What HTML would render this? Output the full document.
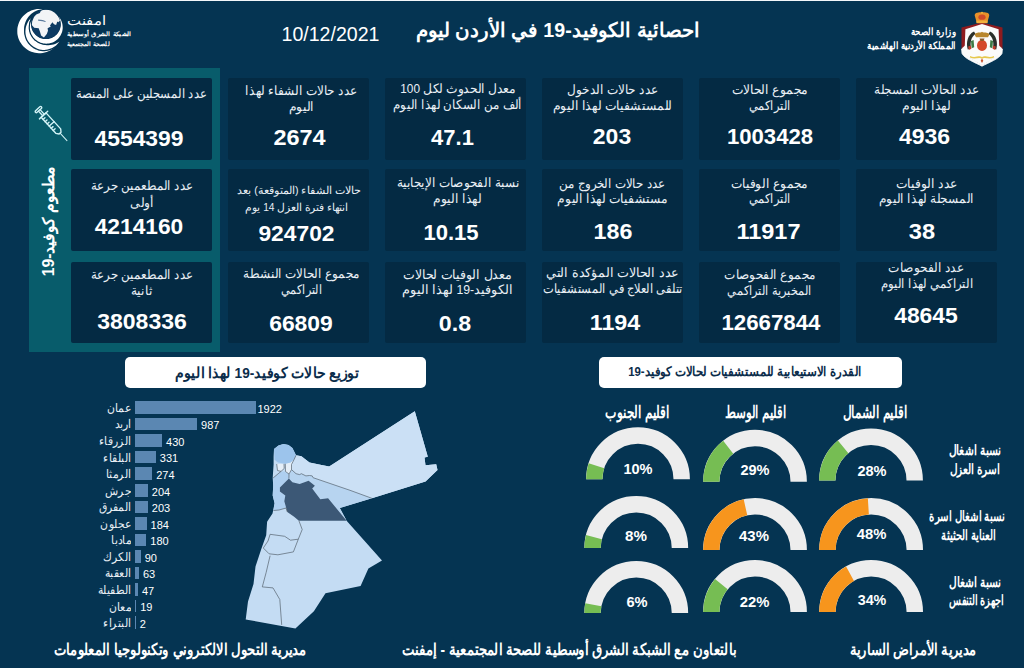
<!DOCTYPE html>
<html lang="ar">
<head>
<meta charset="utf-8">
<title>احصائية الكوفيد-19 في الأردن</title>
<style>
html,body{margin:0;padding:0;}
html{width:1024px;height:668px;overflow:hidden;background:#053452;}
body{width:1024px;height:668px;overflow:hidden;background:#053452;position:relative;
 font-family:"Liberation Sans",sans-serif;color:#fff;}
#p{position:absolute;left:0;top:0;width:1024px;height:668px;overflow:hidden;overflow:clip;contain:paint;}
.topline{position:absolute;left:0;top:0;width:1024px;height:1px;background:#f4f7fa;}
.teal{position:absolute;left:29px;top:68px;width:191px;height:284px;background:#085c6b;}
.card{position:absolute;width:141px;height:81.5px;background:#042a43;border-radius:2px;}
.x{position:absolute;white-space:nowrap;direction:rtl;line-height:20px;height:20px;color:#fff;}
.c{text-align:center;transform-origin:50% 50%;}
.r{text-align:right;transform-origin:100% 50%;}
.l{text-align:left;transform-origin:0 50%;}
.wbox{position:absolute;background:#fff;border-radius:5px;}
.bar{position:absolute;left:135px;height:12.5px;background:#5b87b2;}
svg{position:absolute;overflow:visible;}
</style>
</head>
<body>
<div id="p">
<div class="topline"></div>

<header>
<svg width="80" height="60" viewBox="0 0 80 60" style="left:0;top:0;">
<defs><clipPath id="gl"><circle cx="45.9" cy="24.2" r="14.5"/></clipPath></defs>
<path d="M42.7 9.3L40.8 9.0L38.8 9.0L36.9 9.1L34.9 9.4L33.0 9.9L31.2 10.6L29.4 11.4L27.7 12.3L26.1 13.4L24.6 14.7L23.2 16.0L21.9 17.5L20.8 19.1L19.8 20.8L19.0 22.6L18.3 24.4L17.8 26.3L17.4 28.2L17.3 30.2L17.3 32.1L17.4 34.1L17.8 36.0L18.3 37.9L19.0 39.7L19.8 41.5L20.8 43.1L22.0 44.7L23.2 46.2L24.6 47.6L26.1 48.8L27.8 49.9L29.5 50.9L31.3 51.7L33.1 52.3L35.0 52.8L36.9 53.1L38.9 53.2L40.8 53.2L42.8 52.9L44.7 52.5L46.6 52.0L48.4 51.3L50.1 50.4L51.8 49.4L53.4 48.2L54.8 46.9L56.1 45.5L54.7 46.5L53.1 47.3L51.5 48.0L49.8 48.6L48.1 49.0L46.3 49.3L44.6 49.4L42.8 49.4L41.1 49.2L39.3 48.8L37.6 48.3L36.0 47.6L34.4 46.8L32.9 45.9L31.5 44.8L30.1 43.7L28.9 42.4L27.8 41.0L26.9 39.5L26.0 37.9L25.4 36.3L24.8 34.6L24.4 32.9L24.2 31.1L24.1 29.4L24.2 27.6L24.4 25.8L24.8 24.1L25.3 22.4L26.0 20.8L26.8 19.2L27.8 17.7L28.9 16.3L30.1 15.0L31.4 13.8L32.8 12.8L34.3 11.8L35.9 11.0L37.5 10.3L39.2 9.8L40.9 9.5Z" fill="#fff"/>
<path d="M30.8 18.3L29.7 19.5L28.7 20.8L27.8 22.2L27.1 23.7L26.5 25.2L26.0 26.7L25.7 28.3L25.5 29.9L25.4 31.6L25.5 33.2L25.7 34.8L26.1 36.4L26.6 38.0L27.2 39.5L28.0 40.9L28.9 42.3L29.9 43.5L31.1 44.7L32.3 45.8L33.6 46.8L35.0 47.6L36.4 48.3L38.0 48.9L39.5 49.4L41.1 49.7L42.8 49.9L44.4 49.9L46.0 49.8L47.6 49.5L49.2 49.1L50.7 48.6L52.2 47.9L53.7 47.1L55.0 46.2L56.3 45.2L57.4 44.0L58.5 42.8L59.4 41.5L58.0 42.4L56.6 43.2L55.1 43.9L53.5 44.4L51.9 44.8L50.2 45.1L48.6 45.2L46.9 45.2L45.2 45.0L43.6 44.7L42.0 44.2L40.4 43.6L38.9 42.8L37.5 42.0L36.2 41.0L34.9 39.9L33.8 38.7L32.7 37.4L31.8 36.0L31.0 34.5L30.3 33.0L29.8 31.4L29.4 29.8L29.2 28.1L29.1 26.4L29.2 24.8L29.4 23.1L29.7 21.5L30.2 19.9Z" fill="#fff" stroke="#053452" stroke-width="2.6" paint-order="stroke" stroke-linejoin="round"/>
<path d="M31.6 20.0L31.0 21.4L30.5 22.7L30.2 24.1L30.0 25.6L29.9 27.0L29.9 28.5L30.1 29.9L30.4 31.3L30.8 32.7L31.3 34.0L32.0 35.3L32.8 36.5L33.6 37.7L34.6 38.8L35.6 39.8L36.8 40.6L38.0 41.4L39.3 42.1L40.6 42.7L42.0 43.1L43.4 43.4L44.8 43.6L46.2 43.7L47.7 43.6L49.1 43.5L50.5 43.1L51.9 42.7L53.2 42.2L54.5 41.5L55.7 40.7L56.9 39.8L57.9 38.9L58.9 37.8L59.8 36.6L60.5 35.4L61.2 34.1L61.8 32.8L62.2 31.4L62.5 30.0L62.7 28.6L62.7 27.1L62.6 25.7L62.4 24.3L62.1 22.9L61.6 21.5L61.1 20.2L60.4 18.9L59.6 17.7L58.7 16.6L59.3 17.7L59.8 18.9L60.2 20.2L60.5 21.4L60.7 22.7L60.8 24.0L60.8 25.4L60.6 26.7L60.3 27.9L59.9 29.2L59.4 30.4L58.8 31.6L58.1 32.7L57.4 33.7L56.5 34.7L55.5 35.6L54.5 36.4L53.4 37.1L52.2 37.7L51.0 38.2L49.7 38.6L48.5 38.9L47.2 39.0L45.8 39.1L44.5 39.0L43.2 38.9L42.0 38.6L40.7 38.2L39.5 37.7L38.3 37.0L37.2 36.3L36.2 35.5L35.2 34.6L34.4 33.6L33.6 32.6L32.9 31.5L32.3 30.3L31.8 29.1L31.4 27.8L31.2 26.5L31.0 25.2L31.0 23.9L31.1 22.6L31.3 21.3Z" fill="#fff" stroke="#053452" stroke-width="2.4" paint-order="stroke" stroke-linejoin="round"/>
<circle cx="45.9" cy="24.2" r="14.5" fill="#0d3b63"/>
<polygon clip-path="url(#gl)" fill="#f2f4f6" points="32.2,21.4 34.0,17.0 36.3,14.5 39.9,12.9 41.0,10.5 44.3,9.5 50.0,9.5 54.0,11.3 58.5,16.5 60.4,20.2 58.2,22.3 57.3,21.4 56.1,25.0 54.0,24.2 52.4,22.2 50.0,25.4 50.8,26.6 47.6,28.3 48.0,30.7 46.8,33.9 43.9,37.5 41.1,35.5 39.9,31.5 38.7,28.3 34.2,27.8 31.8,25.0"/>
<path clip-path="url(#gl)" d="M38.2 19.6l4.6.5 3 1.2-.5.8-2.8-.8-4.4-.6z" fill="#5b7a9c"/>
</svg>
<svg width="64" height="62" viewBox="950 8 64 62" style="left:950px;top:8px;">
<path d="M982 22.5 L1002.5 27.5 L1002.5 50 L982 66 L961.5 50 L961.5 27.5Z" fill="#8e1b1e"/>
<path d="M982 24 L998.6 29.2 L999.4 50.5 C999 56 990 60 982 65 C974 60 965 56 964.6 50.5 L965.4 29.2Z" fill="#fbfbfb"/>
<path d="M961.6 49 L966 45 L966 54.5 C969 58 976 61 982 65 C988 61 995 58 998 54.5 L998 45 L1002.4 49 L1002 53.5 C999 59 989 62.5 982 66.2 C975 62.5 965 59 962 53.5Z" fill="#fbfbfb" stroke="#fbfbfb" stroke-width="0.8"/>
<path d="M963.5 47H1000.5L999 55 982 64.5 965 55Z" fill="#fbfbfb"/>
<path d="M975 16.5 C973.5 13 978 12.2 982 12.4 C986 12.2 990.5 13 989 16.5 L987.3 22.6 L976.7 22.6Z" fill="#e8912a"/>
<rect x="976.4" y="20.6" width="11.2" height="2.6" fill="#f2b13c"/>
<circle cx="982" cy="12.8" r="1" fill="#f2b13c"/>
<ellipse cx="982" cy="17.2" rx="3.6" ry="2.6" fill="#cf4a2a"/>
<path d="M974 31.5 C967.5 34.5 965.8 43 967.8 49.5 L971 48 C970 42.5 971 37 975.5 34Z" fill="#2a2f2a"/>
<path d="M990 31.5 C996.5 34.5 998.2 43 996.2 49.5 L993 48 C994 42.5 993 37 988.5 34Z" fill="#2a2f2a"/>
<path d="M971 41 L973.6 40 L974.2 47.2 L971.6 48.2Z" fill="#3e7b45"/><path d="M993 41 L990.4 40 L989.8 47.2 L992.4 48.2Z" fill="#3e7b45"/>
<path d="M968.2 46.5l2.6-1 .6 3.2-2.6 1.2z" fill="#c23b2a"/><path d="M995.8 46.5l-2.6-1-.6 3.2 2.6 1.2z" fill="#c23b2a"/>
<path d="M974.5 34.5 C977 31.5 980 33.5 982 31.8 C984 33.5 987 31.5 989.5 34.5 L988 37.2 L976 37.2Z" fill="#b8862c"/>
<ellipse cx="982" cy="45.4" rx="5" ry="5.6" fill="#d4482b"/>
<path d="M979.5 38.5h5l-1 2.5h-3z" fill="#8a5a2a"/>
<path d="M970 56 C975 58.5 979 55 982 57 C985 55 989 58.5 994 56 L994 57.6 C989 60 985 56.8 982 58.8 C979 56.8 975 60 970 57.6Z" fill="#e6c84e"/>
<path d="M982 58.5l1.3 2.2-1.3 2.2-1.3-2.2z" fill="#c9532f"/>
</svg>
<div class="x c" id="ttl" style="left:273.0px;top:19.9px;width:570px;font-size:19.8px;font-weight:bold;transform:scaleX(0.991);">احصائية الكوفيد-19 في الأردن ليوم</div>
<div class="x c" id="date" style="left:239.5px;top:23.8px;width:181px;font-size:19.4px;direction:ltr;transform:scaleX(1.010);">10/12/2021</div>
<div class="x r" id="min1" style="left:835.5px;top:21.5px;width:120px;font-size:10.2px;font-weight:bold;transform:scaleX(0.867);">وزارة الصحة</div>
<div class="x r" id="min2" style="left:734.5px;top:36.0px;width:221px;font-size:10.2px;font-weight:bold;transform:scaleX(0.862);">المملكة الأردنية الهاشمية</div>
<div class="x l" id="lg1" style="left:66.5px;top:10.5px;width:80px;font-size:13px;transform:scaleX(1.143);">امفنت</div>
<div class="x l" id="lg2" style="left:67.0px;top:24.4px;width:130px;font-size:6px;font-weight:bold;transform:scaleX(1.129);">الشبكة الشرق أوسطية</div>
<div class="x l" id="lg3" style="left:67.0px;top:33.9px;width:99px;font-size:6px;font-weight:bold;transform:scaleX(1.021);">للصحة المجتمعية</div>
</header>
<section id="vaccination">
<div class="teal"></div>
<div class="x c" id="vax" style="left:-70.7px;top:211.0px;width:240px;font-size:16px;font-weight:bold;transform:rotate(-90deg) scaleX(0.981);">مطعوم كوفيد-19</div>
<svg width="1024" height="668" viewBox="0 0 1024 668" style="left:0;top:0;" fill="none" stroke="#d2f3f6" stroke-width="1.4" stroke-linecap="round" stroke-linejoin="round">
<g transform="translate(38.45 109.5) rotate(47.5)">
<rect x="-1.1" y="-4" width="2.3" height="8" rx="1.1"/>
<path d="M1.2 -1.1H7.6M1.2 1.1H7.6"/>
<path d="M7.6 -5.6V5.6"/>
<path d="M7.6 -3.3H29.3L32 -1.3V1.3L29.3 3.3H7.6Z"/>
<path d="M19.5 -3.3V3.3"/>
<path d="M10.5 3.3V0.8M13.5 3.3V0.8M16.5 3.3V0.8M22.5 3.3V0.8M25.5 3.3V0.8"/>
<path d="M32 0H42.2" stroke-width="1"/>
</g></svg>
<div class="card" style="left:71px;top:77.5px;height:82px;">
<div class="x c" style="left:-60.0px;top:6.7px;width:261px;font-size:12.5px;color:#e9eff5;transform:scaleX(0.895);">عدد المسجلين على المنصة</div>
<div class="x c" style="left:-11.5px;top:51.6px;width:158px;font-size:21.5px;font-weight:bold;direction:ltr;transform:scaleX(1.064);">4554399</div>
</div>
<div class="card" style="left:71px;top:169px;height:81.5px;">
<div class="x c" style="left:-32.5px;top:7.2px;width:206px;font-size:12.5px;color:#e9eff5;transform:scaleX(0.908);">عدد المطعمين جرعة</div>
<div class="x c" style="left:38.5px;top:23.7px;width:64px;font-size:12.5px;color:#e9eff5;transform:scaleX(0.940);">أولى</div>
<div class="x c" style="left:-11.2px;top:47.6px;width:158px;font-size:21.5px;font-weight:bold;direction:ltr;transform:scaleX(1.058);">4214160</div>
</div>
<div class="card" style="left:71px;top:262px;height:80.5px;">
<div class="x c" style="left:-32.5px;top:3.2px;width:206px;font-size:12.5px;color:#e9eff5;transform:scaleX(0.908);">عدد المطعمين جرعة</div>
<div class="x c" style="left:40.0px;top:18.7px;width:61px;font-size:12.5px;color:#e9eff5;transform:scaleX(0.935);">ثانية</div>
<div class="x c" style="left:-8.2px;top:49.6px;width:158px;font-size:21.5px;font-weight:bold;direction:ltr;transform:scaleX(1.070);">3808336</div>
</div>
</section>
<section id="stats">
<div class="card" style="left:856px;top:77.5px;height:82px;">
<div class="x c" style="left:-33.5px;top:2.7px;width:208px;font-size:12.5px;color:#e9eff5;transform:scaleX(0.926);">عدد الحالات المسجلة</div>
<div class="x c" style="left:17.0px;top:18.2px;width:107px;font-size:12.5px;color:#e9eff5;transform:scaleX(0.952);">لهذا اليوم</div>
<div class="x c" style="left:17.8px;top:49.6px;width:101px;font-size:21.5px;font-weight:bold;direction:ltr;transform:scaleX(1.071);">4936</div>
</div>
<div class="card" style="left:699px;top:77.5px;height:82px;">
<div class="x c" style="left:-6.5px;top:2.7px;width:154px;font-size:12.5px;color:#e9eff5;transform:scaleX(0.944);">مجموع الحالات</div>
<div class="x c" style="left:20.0px;top:18.2px;width:101px;font-size:12.5px;color:#e9eff5;transform:scaleX(0.875);">التراكمي</div>
<div class="x c" style="left:-8.5px;top:49.6px;width:158px;font-size:21.5px;font-weight:bold;direction:ltr;transform:scaleX(1.029);">1003428</div>
</div>
<div class="card" style="left:542px;top:77.5px;height:82px;">
<div class="x c" style="left:-20.5px;top:2.7px;width:182px;font-size:12.5px;color:#e9eff5;transform:scaleX(0.929);">عدد حالات الدخول</div>
<div class="x c" style="left:-43.0px;top:18.2px;width:227px;font-size:12.5px;color:#e9eff5;transform:scaleX(0.949);">للمستشفيات لهذا اليوم</div>
<div class="x c" style="left:29.0px;top:49.6px;width:82px;font-size:21.5px;font-weight:bold;direction:ltr;transform:scaleX(1.067);">203</div>
</div>
<div class="card" style="left:385px;top:77.5px;height:82px;">
<div class="x c" style="left:-38.1px;top:1.7px;width:222px;font-size:12.5px;color:#e9eff5;transform:scaleX(0.944);">معدل الحدوث لكل 100</div>
<div class="x c" style="left:-54.5px;top:17.7px;width:253px;font-size:12.5px;color:#e9eff5;transform:scaleX(0.913);">ألف من السكان لهذا اليوم</div>
<div class="x c" style="left:21.8px;top:50.1px;width:91px;font-size:21.5px;font-weight:bold;direction:ltr;transform:scaleX(1.021);">47.1</div>
</div>
<div class="card" style="left:228px;top:77.5px;height:82px;">
<div class="x c" style="left:-36.0px;top:3.7px;width:219px;font-size:12.5px;color:#e9eff5;transform:scaleX(0.930);">عدد حالات الشفاء لهذا</div>
<div class="x c" style="left:40.0px;top:19.2px;width:67px;font-size:12.5px;color:#e9eff5;transform:scaleX(0.944);">اليوم</div>
<div class="x c" style="left:21.0px;top:50.3px;width:101px;font-size:21.5px;font-weight:bold;direction:ltr;transform:scaleX(1.092);">2674</div>
</div>
<div class="card" style="left:856px;top:169px;height:81.5px;">
<div class="x c" style="left:5.5px;top:4.7px;width:130px;font-size:12.5px;color:#e9eff5;transform:scaleX(0.947);">عدد الوفيات</div>
<div class="x c" style="left:-24.0px;top:20.2px;width:189px;font-size:12.5px;color:#e9eff5;transform:scaleX(0.932);">المسجلة لهذا اليوم</div>
<div class="x c" style="left:35.0px;top:52.6px;width:62px;font-size:21.5px;font-weight:bold;direction:ltr;transform:scaleX(1.100);">38</div>
</div>
<div class="card" style="left:699px;top:169px;height:81.5px;">
<div class="x c" style="left:-8.0px;top:4.7px;width:157px;font-size:12.5px;color:#e9eff5;transform:scaleX(0.934);">مجموع الوفيات</div>
<div class="x c" style="left:20.0px;top:20.2px;width:101px;font-size:12.5px;color:#e9eff5;transform:scaleX(0.875);">التراكمي</div>
<div class="x c" style="left:10.5px;top:52.6px;width:117px;font-size:21.5px;font-weight:bold;direction:ltr;transform:scaleX(1.093);">11917</div>
</div>
<div class="card" style="left:542px;top:169px;height:81.5px;">
<div class="x c" style="left:-36.0px;top:4.7px;width:213px;font-size:12.5px;color:#e9eff5;transform:scaleX(0.915);">عدد حالات الخروج من</div>
<div class="x c" style="left:-36.0px;top:20.2px;width:213px;font-size:12.5px;color:#e9eff5;transform:scaleX(0.941);">مستشفيات لهذا اليوم</div>
<div class="x c" style="left:30.2px;top:52.6px;width:82px;font-size:21.5px;font-weight:bold;direction:ltr;transform:scaleX(1.081);">186</div>
</div>
<div class="card" style="left:385px;top:169px;height:81.5px;">
<div class="x c" style="left:-46.1px;top:3.7px;width:238px;font-size:12.5px;color:#e9eff5;transform:scaleX(0.925);">نسبة الفحوصات الإيجابية</div>
<div class="x c" style="left:19.1px;top:19.7px;width:107px;font-size:12.5px;color:#e9eff5;transform:scaleX(0.942);">لهذا اليوم</div>
<div class="x c" style="left:11.3px;top:53.6px;width:110px;font-size:21.5px;font-weight:bold;direction:ltr;transform:scaleX(1.026);">10.15</div>
</div>
<div class="card" style="left:228px;top:169px;height:81.5px;">
<div class="x c" style="left:-40.5px;top:11.1px;width:222px;font-size:10.5px;color:#e9eff5;transform:scaleX(1.008);">حالات الشفاء (المتوقعة) بعد</div>
<div class="x c" style="left:-29.0px;top:28.3px;width:195px;font-size:10.5px;color:#e9eff5;transform:scaleX(0.972);">انتهاء فترة العزل 14 يوم</div>
<div class="x c" style="left:-1.0px;top:54.9px;width:139px;font-size:21.5px;font-weight:bold;direction:ltr;transform:scaleX(1.061);">924702</div>
</div>
<div class="card" style="left:856px;top:262px;height:80.5px;">
<div class="x c" style="left:-7.0px;top:-4.3px;width:155px;font-size:12.5px;color:#e9eff5;transform:scaleX(0.933);">عدد الفحوصات</div>
<div class="x c" style="left:-24.5px;top:11.7px;width:190px;font-size:12.5px;color:#e9eff5;transform:scaleX(0.899);">التراكمي لهذا اليوم</div>
<div class="x c" style="left:9.8px;top:44.1px;width:120px;font-size:21.5px;font-weight:bold;direction:ltr;transform:scaleX(1.065);">48645</div>
</div>
<div class="card" style="left:699px;top:262px;height:80.5px;">
<div class="x c" style="left:-20.5px;top:3.2px;width:182px;font-size:12.5px;color:#e9eff5;transform:scaleX(0.924);">مجموع الفحوصات</div>
<div class="x c" style="left:-20.0px;top:19.2px;width:181px;font-size:12.5px;color:#e9eff5;transform:scaleX(0.867);">المخبرية التراكمي</div>
<div class="x c" style="left:-17.0px;top:50.6px;width:178px;font-size:21.5px;font-weight:bold;direction:ltr;transform:scaleX(1.035);">12667844</div>
</div>
<div class="card" style="left:542px;top:262px;height:80.5px;">
<div class="x c" style="left:-52.0px;top:0.7px;width:245px;font-size:12.5px;color:#e9eff5;transform:scaleX(0.978);">عدد الحالات المؤكدة التي</div>
<div class="x c" style="left:-69.5px;top:16.7px;width:280px;font-size:12.5px;color:#e9eff5;transform:scaleX(0.881);">تتلقى العلاج في المستشفيات</div>
<div class="x c" style="left:24.2px;top:50.6px;width:98px;font-size:21.5px;font-weight:bold;direction:ltr;transform:scaleX(1.085);">1194</div>
</div>
<div class="card" style="left:385px;top:262px;height:80.5px;">
<div class="x c" style="left:-29.7px;top:3.2px;width:205px;font-size:12.5px;color:#e9eff5;transform:scaleX(0.965);">معدل الوفيات لحالات</div>
<div class="x c" style="left:-29.9px;top:18.2px;width:205px;font-size:12.5px;color:#e9eff5;transform:scaleX(0.982);">الكوفيد-19 لهذا اليوم</div>
<div class="x c" style="left:33.8px;top:51.8px;width:72px;font-size:21.5px;font-weight:bold;direction:ltr;transform:scaleX(1.080);">0.8</div>
</div>
<div class="card" style="left:228px;top:262px;height:80.5px;">
<div class="x c" style="left:-40.4px;top:1.7px;width:227px;font-size:12.5px;color:#e9eff5;transform:scaleX(0.924);">مجموع الحالات النشطة</div>
<div class="x c" style="left:23.0px;top:17.7px;width:101px;font-size:12.5px;color:#e9eff5;transform:scaleX(0.854);">التراكمي</div>
<div class="x c" style="left:13.2px;top:51.9px;width:120px;font-size:21.5px;font-weight:bold;direction:ltr;transform:scaleX(1.065);">66809</div>
</div>
</section>
<section id="distribution">
<div class="wbox" style="left:125px;top:357px;width:301px;height:31px;">
<div class="x c" id="wt1" style="left:-54.5px;top:5.5px;width:392px;font-size:14.5px;font-weight:bold;color:#0b2c4a;transform:scaleX(0.939);">توزيع حالات كوفيد-19 لهذا اليوم</div>
</div>
<div class="bar" style="top:401.25px;width:121.0px;"></div>
<div class="bar" style="top:417.80px;width:62.1px;"></div>
<div class="bar" style="top:434.35px;width:27.1px;"></div>
<div class="bar" style="top:450.90px;width:20.8px;"></div>
<div class="bar" style="top:467.45px;width:17.2px;"></div>
<div class="bar" style="top:484.00px;width:12.8px;"></div>
<div class="bar" style="top:500.55px;width:12.8px;"></div>
<div class="bar" style="top:517.10px;width:11.6px;"></div>
<div class="bar" style="top:533.65px;width:11.3px;"></div>
<div class="bar" style="top:550.20px;width:5.7px;"></div>
<div class="bar" style="top:566.75px;width:4.0px;"></div>
<div class="bar" style="top:583.30px;width:3.0px;"></div>
<div class="bar" style="top:599.85px;width:1.2px;"></div>
<div class="bar" style="top:616.40px;width:0.7px;"></div>
<div class="x r" style="left:63.5px;top:397.9px;width:67px;font-size:11.5px;color:#e9eff5;transform:scaleX(0.900);">عمان</div>
<div class="x l" style="left:257.5px;top:398.7px;width:62px;font-size:11px;direction:ltr;">1922</div>
<div class="x r" style="left:77.5px;top:414.4px;width:53px;font-size:11.5px;color:#e9eff5;transform:scaleX(0.900);">اربد</div>
<div class="x l" style="left:201.1px;top:415.3px;width:53px;font-size:11px;direction:ltr;">987</div>
<div class="x r" style="left:48.5px;top:431.0px;width:82px;font-size:11.5px;color:#e9eff5;transform:scaleX(0.900);">الزرقاء</div>
<div class="x l" style="left:166.1px;top:431.8px;width:53px;font-size:11px;direction:ltr;">430</div>
<div class="x r" style="left:56.5px;top:447.5px;width:74px;font-size:11.5px;color:#e9eff5;transform:scaleX(0.900);">البلقاء</div>
<div class="x l" style="left:159.8px;top:448.4px;width:53px;font-size:11px;direction:ltr;">331</div>
<div class="x r" style="left:61.5px;top:464.1px;width:69px;font-size:11.5px;color:#e9eff5;transform:scaleX(0.900);">الرمثا</div>
<div class="x l" style="left:156.2px;top:464.9px;width:53px;font-size:11px;direction:ltr;">274</div>
<div class="x r" style="left:60.5px;top:480.6px;width:70px;font-size:11.5px;color:#e9eff5;transform:scaleX(0.900);">جرش</div>
<div class="x l" style="left:151.8px;top:481.5px;width:53px;font-size:11px;direction:ltr;">204</div>
<div class="x r" style="left:48.5px;top:497.2px;width:82px;font-size:11.5px;color:#e9eff5;transform:scaleX(0.900);">المفرق</div>
<div class="x l" style="left:151.8px;top:498.0px;width:53px;font-size:11px;direction:ltr;">203</div>
<div class="x r" style="left:52.5px;top:513.7px;width:78px;font-size:11.5px;color:#e9eff5;transform:scaleX(0.900);">عجلون</div>
<div class="x l" style="left:150.6px;top:514.6px;width:53px;font-size:11px;direction:ltr;">184</div>
<div class="x r" style="left:71.5px;top:530.3px;width:59px;font-size:11.5px;color:#e9eff5;transform:scaleX(0.900);">مادبا</div>
<div class="x l" style="left:150.3px;top:531.1px;width:53px;font-size:11px;direction:ltr;">180</div>
<div class="x r" style="left:56.5px;top:546.8px;width:74px;font-size:11.5px;color:#e9eff5;transform:scaleX(0.900);">الكرك</div>
<div class="x l" style="left:144.7px;top:547.7px;width:43px;font-size:11px;direction:ltr;">90</div>
<div class="x r" style="left:60.5px;top:563.4px;width:70px;font-size:11.5px;color:#e9eff5;transform:scaleX(0.900);">العقبة</div>
<div class="x l" style="left:143.0px;top:564.2px;width:43px;font-size:11px;direction:ltr;">63</div>
<div class="x r" style="left:47.5px;top:579.9px;width:83px;font-size:11.5px;color:#e9eff5;transform:scaleX(0.900);">الطفيلة</div>
<div class="x l" style="left:142.0px;top:580.8px;width:43px;font-size:11px;direction:ltr;">47</div>
<div class="x r" style="left:66.5px;top:596.5px;width:64px;font-size:11.5px;color:#e9eff5;transform:scaleX(0.900);">معان</div>
<div class="x l" style="left:140.2px;top:597.3px;width:43px;font-size:11px;direction:ltr;">19</div>
<div class="x r" style="left:56.5px;top:613.0px;width:74px;font-size:11.5px;color:#e9eff5;transform:scaleX(0.900);">البتراء</div>
<div class="x l" style="left:139.7px;top:613.9px;width:34px;font-size:11px;direction:ltr;">2</div>
<svg width="1024" height="668" viewBox="0 0 1024 668" style="left:0;top:0;" stroke-linejoin="round">
<polygon points="274.0,449.0 278.5,445.4 283.5,444.0 288.5,445.0 292.4,448.0 296.0,455.3 301.4,456.2 309.5,462.4 320.3,464.7 329.2,466.5 414.8,411.3 427.8,456.8 424.5,457.4 425.5,465.2 436.2,464.2 437.5,470.1 425.5,481.4 371.9,498.3 339.8,508.0 346.6,520.7 382.0,560.6 368.4,568.4 360.6,585.9 325.5,593.3 313.9,611.2 295.4,628.4 245.7,619.4 248.0,601.5 253.5,584.0 255.5,566.5 261.3,549.0 266.2,535.3 267.1,521.7 272.5,513.5 274.6,503.2 272.7,495.4 273.2,485.7 272.7,477.9 273.6,464.2 273.6,456.5" fill="#c4dcf3"/>
<polygon points="296.0,455.3 301.4,456.2 309.5,462.4 320.3,464.7 329.2,466.5 414.8,411.3 427.8,456.8 424.5,457.4 425.5,465.2 436.2,464.2 437.5,470.1 425.5,481.4 371.9,498.3 350.0,490.3 313.1,477.7 312.2,475.9 309.5,475.5 305.9,475.9 301.4,473.7 299.6,474.6 296.0,473.7 291.5,469.6 291.5,464.5 294.2,459.3" fill="#cbe0f5"/>
<polygon points="291.5,469.6 296.0,473.7 299.6,474.6 301.4,473.7 305.9,475.9 309.5,475.5 312.2,475.9 313.1,477.7 350.0,490.3 371.9,498.3 339.8,508.0 346.6,520.7 328.1,498.3 320.3,499.2 312.2,488.5 314.9,485.8 308.6,480.8 299.6,484.0 292.4,482.2 288.9,478.6 289.0,474.0" fill="#b7d4f0"/>
<polygon points="273.2,477.9 281.0,471.4 285.5,471.5 289.0,474.0 288.9,478.6 279.9,487.6 279.9,491.5 285.3,495.4 284.3,501.2 286.0,508.0 279.0,510.0 273.5,510.5 274.6,503.2 272.7,495.4 273.2,485.7" fill="#aecff0"/>
<polygon points="276.7,464.0 284.0,463.9 284.2,468.5 281.0,471.4 277.5,470.5" fill="#e4eef8"/>
<polygon points="285.3,463.8 290.6,462.4 294.2,459.3 291.5,464.5 291.5,469.6 289.0,474.0 285.5,471.5" fill="#e4eef8"/>
<polygon points="274.0,449.0 278.5,445.4 283.5,444.0 288.5,445.0 292.4,448.0 296.0,455.3 294.2,459.3 290.6,462.4 285.3,463.8 278.0,462.4 274.5,459.7" fill="#9cc4ec"/>
<polygon points="288.9,478.6 292.4,482.2 299.6,484.0 308.6,480.8 314.9,485.8 312.2,488.5 320.3,499.2 328.1,498.3 346.6,520.7 298.9,520.7 294.1,516.8 287.3,511.9 284.3,501.2 285.3,495.4 279.9,491.5 279.9,487.6" fill="#3c5876"/>
<polyline points="296.0,455.3 294.2,459.3 291.5,464.5 291.5,469.6 296.0,473.7 299.6,474.6 301.4,473.7 305.9,475.9 309.5,475.5 312.2,475.9 313.1,477.7 350.0,490.3 371.9,498.3" fill="none" stroke="#56636f" stroke-width="0.7"/>
<polyline points="276.7,464.0 277.5,470.5 281.0,471.4 284.2,468.5 284.0,463.9" fill="none" stroke="#56636f" stroke-width="0.7"/>
<polyline points="285.3,463.8 285.5,471.5 289.0,474.0 291.5,469.6" fill="none" stroke="#56636f" stroke-width="0.7"/>
<polyline points="273.2,477.9 281.0,471.4" fill="none" stroke="#56636f" stroke-width="0.7"/>
<polyline points="289.0,474.0 288.9,478.6" fill="none" stroke="#56636f" stroke-width="0.7"/>
<polyline points="273.5,510.5 279.0,510.0 286.0,508.0 287.3,511.9" fill="none" stroke="#56636f" stroke-width="0.7"/>
<polyline points="270.1,534.3 284.7,536.3 290.5,540.2 298.3,539.2 302.2,529.5 298.9,520.7" fill="none" stroke="#56636f" stroke-width="0.7"/>
<polyline points="263.3,548.0 269.1,553.8 277.9,554.8 293.4,551.9 298.3,539.2" fill="none" stroke="#56636f" stroke-width="0.7"/>
<polyline points="270.1,555.7 266.2,572.3 262.3,586.9 273.0,587.9 279.8,599.5 281.7,624.9" fill="none" stroke="#56636f" stroke-width="0.7"/>
<polyline points="270.1,534.3 268.0,541.0 263.3,548.0" fill="none" stroke="#56636f" stroke-width="0.7"/>
</svg>
</section>
<section id="capacity">
<div class="wbox" style="left:599px;top:357px;width:303px;height:31px;">
<div class="x c" id="wt2" style="left:-109.0px;top:5.4px;width:510px;font-size:12.6px;font-weight:bold;color:#0b2c4a;transform:scaleX(0.905);">القدرة الاستيعابية للمستشفيات لحالات كوفيد-19</div>
</div>
<svg width="1024" height="668" viewBox="0 0 1024 668" style="left:0;top:0;" fill="none" stroke-width="16.4">
<path d="M827.30 480.50A43.7 43.7 0 0 1 914.70 480.50" stroke="#ededed"/>
<path d="M827.30 480.50A43.7 43.7 0 0 1 843.14 446.83" stroke="#76bd53"/>
<path d="M711.30 481.75A43.7 43.7 0 0 1 798.70 481.75" stroke="#ededed"/>
<path d="M711.30 481.75A43.7 43.7 0 0 1 728.22 447.22" stroke="#76bd53"/>
<path d="M594.30 479.25A43.7 43.7 0 0 1 681.70 479.25" stroke="#ededed"/>
<path d="M594.30 479.25A43.7 43.7 0 0 1 596.44 465.75" stroke="#76bd53"/>
<path d="M827.40 550.00A43.7 43.7 0 0 1 914.80 550.00" stroke="#ededed"/>
<path d="M827.40 550.00A43.7 43.7 0 0 1 868.36 506.39" stroke="#f7951d"/>
<path d="M711.30 550.00A43.7 43.7 0 0 1 798.70 550.00" stroke="#ededed"/>
<path d="M711.30 550.00A43.7 43.7 0 0 1 745.47 507.35" stroke="#f7951d"/>
<path d="M592.55 548.00A43.7 43.7 0 0 1 679.95 548.00" stroke="#ededed"/>
<path d="M592.55 548.00A43.7 43.7 0 0 1 593.92 537.13" stroke="#76bd53"/>
<path d="M827.40 612.00A43.7 43.7 0 0 1 914.80 612.00" stroke="#ededed"/>
<path d="M827.40 612.00A43.7 43.7 0 0 1 850.05 573.71" stroke="#f7951d"/>
<path d="M711.30 612.00A43.7 43.7 0 0 1 798.70 612.00" stroke="#ededed"/>
<path d="M711.30 612.00A43.7 43.7 0 0 1 721.33 584.14" stroke="#76bd53"/>
<path d="M592.55 613.00A43.7 43.7 0 0 1 679.95 613.00" stroke="#ededed"/>
<path d="M592.55 613.00A43.7 43.7 0 0 1 593.32 604.81" stroke="#76bd53"/>
</svg>
<div class="x c" style="left:775.1px;top:402.6px;width:200px;font-size:17px;font-weight:bold;transform:scaleX(0.707);">اقليم الشمال</div>
<div class="x c" style="left:657.5px;top:402.6px;width:195px;font-size:17px;font-weight:bold;transform:scaleX(0.692);">اقليم الوسط</div>
<div class="x c" style="left:539.1px;top:402.6px;width:197px;font-size:17px;font-weight:bold;transform:scaleX(0.711);">اقليم الجنوب</div>
<div class="x c" style="left:836.8px;top:461.1px;width:70px;font-size:14.8px;font-weight:bold;direction:ltr;transform:scaleX(0.983);">28%</div>
<div class="x c" style="left:719.8px;top:459.6px;width:70px;font-size:14.8px;font-weight:bold;direction:ltr;transform:scaleX(0.983);">29%</div>
<div class="x c" style="left:602.8px;top:459.1px;width:70px;font-size:14.8px;font-weight:bold;direction:ltr;transform:scaleX(0.983);">10%</div>
<div class="x c" style="left:836.5px;top:524.1px;width:70px;font-size:14.8px;font-weight:bold;direction:ltr;">48%</div>
<div class="x c" style="left:718.9px;top:525.6px;width:70px;font-size:14.8px;font-weight:bold;direction:ltr;transform:scaleX(1.009);">43%</div>
<div class="x c" style="left:606.8px;top:526.1px;width:58px;font-size:14.8px;font-weight:bold;direction:ltr;transform:scaleX(1.024);">8%</div>
<div class="x c" style="left:837.0px;top:590.4px;width:70px;font-size:14.8px;font-weight:bold;direction:ltr;transform:scaleX(0.966);">34%</div>
<div class="x c" style="left:719.5px;top:591.6px;width:70px;font-size:14.8px;font-weight:bold;direction:ltr;">22%</div>
<div class="x c" style="left:607.6px;top:591.9px;width:58px;font-size:14.8px;font-weight:bold;direction:ltr;transform:scaleX(0.988);">6%</div>
<div class="x c" style="left:897.8px;top:439.6px;width:154px;font-size:14px;font-weight:bold;transform:scaleX(0.759);">نسبة اشغال</div>
<div class="x c" style="left:899.5px;top:459.1px;width:150px;font-size:14px;font-weight:bold;transform:scaleX(0.747);">اسرة العزل</div>
<div class="x c" style="left:858.2px;top:505.6px;width:218px;font-size:14px;font-weight:bold;transform:scaleX(0.723);">نسبة اشغال اسرة</div>
<div class="x c" style="left:883.4px;top:524.6px;width:171px;font-size:14px;font-weight:bold;transform:scaleX(0.715);">العناية الحثيثة</div>
<div class="x c" style="left:897.9px;top:571.6px;width:154px;font-size:14px;font-weight:bold;transform:scaleX(0.756);">نسبة اشغال</div>
<div class="x c" style="left:887.2px;top:589.6px;width:179px;font-size:14px;font-weight:bold;transform:scaleX(0.696);">اجهزة التنفس</div>
</section>
<footer>
<div class="x c" id="f1" style="left:755.5px;top:638.9px;width:314px;font-size:16.4px;font-weight:bold;transform:scaleX(0.818);">مديرية الأمراض السارية</div>
<div class="x c" id="f2" style="left:181.2px;top:638.9px;width:776px;font-size:16.4px;font-weight:bold;transform:scaleX(0.829);">بالتعاون مع الشبكة الشرق أوسطية للصحة المجتمعية - إمفنت</div>
<div class="x c" id="f3" style="left:-124.0px;top:638.9px;width:608px;font-size:16.4px;font-weight:bold;transform:scaleX(0.825);">مديرية التحول الالكتروني وتكنولوجيا المعلومات</div>
</footer>
</div>
</body>
</html>
